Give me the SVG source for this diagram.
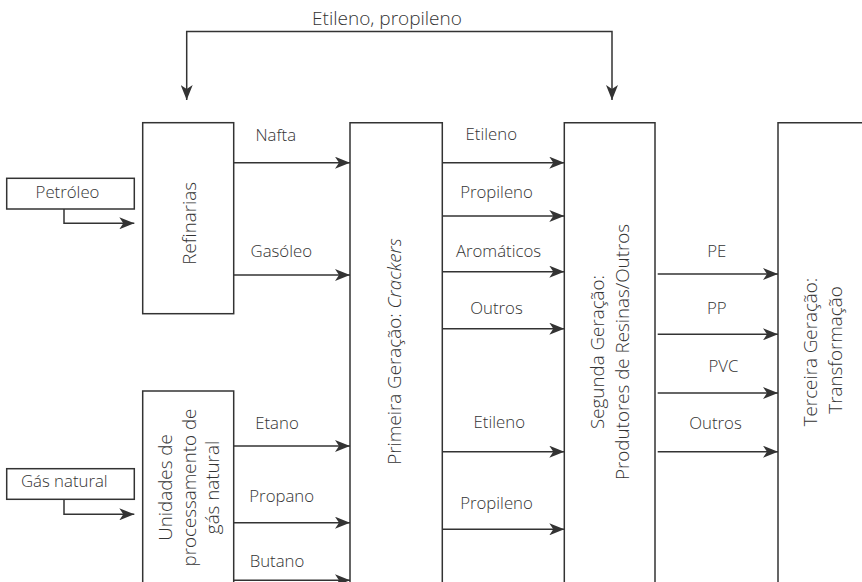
<svg xmlns="http://www.w3.org/2000/svg" width="862" height="582" viewBox="0 0 862 582">
<style>
  .box{fill:none;stroke:#333;stroke-width:1.5}
  .ln{fill:none;stroke:#333;stroke-width:1.5}
  .arr{fill:none;stroke:#333;stroke-width:1.5;marker-end:url(#ah)}
  text{font-family:"Open Sans","Noto Sans","Liberation Sans",sans-serif;font-weight:300;fill:#333}
  .lb{font-size:16.8px;text-anchor:middle}
  .vt{font-size:18.8px;text-anchor:middle}
  .tt{font-size:19px;text-anchor:middle}
</style>
<defs>
  <marker id="ah" markerUnits="userSpaceOnUse" markerWidth="16" markerHeight="12" refX="15" refY="6" orient="auto">
    <path d="M0,0 L15,6 L0,12 L4,6 z" fill="#333"/>
  </marker>
</defs>

<g id="connectors">
  <path class="arr" d="M186.7,100 V31.5 H612 V100" marker-start="url(#ahs)"/>
  <path class="arr" d="M64,209 V223.3 H134.3"/>
  <path class="arr" d="M64,499.3 V514.3 H134.3"/>
  <line class="arr" x1="233.7" y1="162.7" x2="350" y2="162.7"/>
  <line class="arr" x1="233.7" y1="275" x2="350" y2="275"/>
  <line class="arr" x1="233.7" y1="446" x2="350" y2="446"/>
  <line class="arr" x1="233.7" y1="522.7" x2="350" y2="522.7"/>
  <line class="arr" x1="233.7" y1="580.3" x2="350" y2="580.3"/>
  <line class="arr" x1="442.3" y1="162.7" x2="564.3" y2="162.7"/>
  <line class="arr" x1="442.3" y1="216" x2="564.3" y2="216"/>
  <line class="arr" x1="442.3" y1="271.7" x2="564.3" y2="271.7"/>
  <line class="arr" x1="442.3" y1="328.7" x2="564.3" y2="328.7"/>
  <line class="arr" x1="442.3" y1="451.7" x2="564.3" y2="451.7"/>
  <line class="arr" x1="442.3" y1="529.3" x2="564.3" y2="529.3"/>
  <line class="arr" x1="657.7" y1="274" x2="778" y2="274"/>
  <line class="arr" x1="657.7" y1="334.3" x2="778" y2="334.3"/>
  <line class="arr" x1="657.7" y1="393" x2="778" y2="393"/>
  <line class="arr" x1="657.7" y1="451.7" x2="778" y2="451.7"/>
</g>
<defs>
  <marker id="ahs" markerUnits="userSpaceOnUse" markerWidth="16" markerHeight="12" refX="0" refY="6" orient="auto">
    <path d="M15,0 L0,6 L15,12 L11,6 z" fill="#333"/>
  </marker>
</defs>

<g id="labels">
  <text class="tt" x="387" y="25">Etileno, propileno</text>
  <text class="lb" x="275.8" y="140.7">Nafta</text>
  <text class="lb" x="281.3" y="256.7">Gasóleo</text>
  <text class="lb" x="277" y="428.7">Etano</text>
  <text class="lb" x="281.7" y="501.7">Propano</text>
  <text class="lb" x="277" y="567">Butano</text>
  <text class="lb" x="491.3" y="140">Etileno</text>
  <text class="lb" x="496.5" y="198.3">Propileno</text>
  <text class="lb" x="498.5" y="256.7">Aromáticos</text>
  <text class="lb" x="496.5" y="313.7">Outros</text>
  <text class="lb" x="499.3" y="428.3">Etileno</text>
  <text class="lb" x="496.5" y="509.3">Propileno</text>
  <text class="lb" x="716.7" y="256.7">PE</text>
  <text class="lb" x="716.8" y="314.3">PP</text>
  <text class="lb" x="723.5" y="372">PVC</text>
  <text class="lb" x="715.5" y="428.7">Outros</text>
</g>

<g id="petroleo">
  <rect class="box" x="6.7" y="178.3" width="127.6" height="30.7"/>
  <text class="lb" x="67.5" y="198.3">Petróleo</text>
</g>
<g id="gas-natural">
  <rect class="box" x="6.7" y="468.7" width="127.6" height="30.6"/>
  <text class="lb" x="64.3" y="487">Gás natural</text>
</g>
<g id="refinarias">
  <rect class="box" x="142.7" y="122.7" width="91" height="191"/>
  <text class="vt" transform="translate(196,223.3) rotate(-90)">Refinarias</text>
</g>
<g id="unidades">
  <path class="box" d="M142.7,583 V391 H233.7 V583"/>
  <text class="vt" transform="translate(172,487.5) rotate(-90)">Unidades de</text>
  <text class="vt" transform="translate(195.5,487.5) rotate(-90)">processamento de</text>
  <text class="vt" transform="translate(219,487.5) rotate(-90)">gás natural</text>
</g>
<g id="primeira">
  <path class="box" d="M350,583 V122.7 H442.3 V583"/>
  <text class="vt" transform="translate(401,351.5) rotate(-90)">Primeira Geração: <tspan font-style="italic">Crackers</tspan></text>
</g>
<g id="segunda">
  <path class="box" d="M564.3,583 V122.7 H655 V583"/>
  <text class="vt" transform="translate(603.5,352) rotate(-90)">Segunda Geração:</text>
  <text class="vt" transform="translate(628.5,352) rotate(-90)">Produtores de Resinas/Outros</text>
</g>
<g id="terceira">
  <path class="box" d="M778,583 V122.7 H863"/>
  <text class="vt" transform="translate(816.5,352) rotate(-90)">Terceira Geração:</text>
  <text class="vt" transform="translate(841.5,350) rotate(-90)">Transformação</text>
</g>
</svg>
